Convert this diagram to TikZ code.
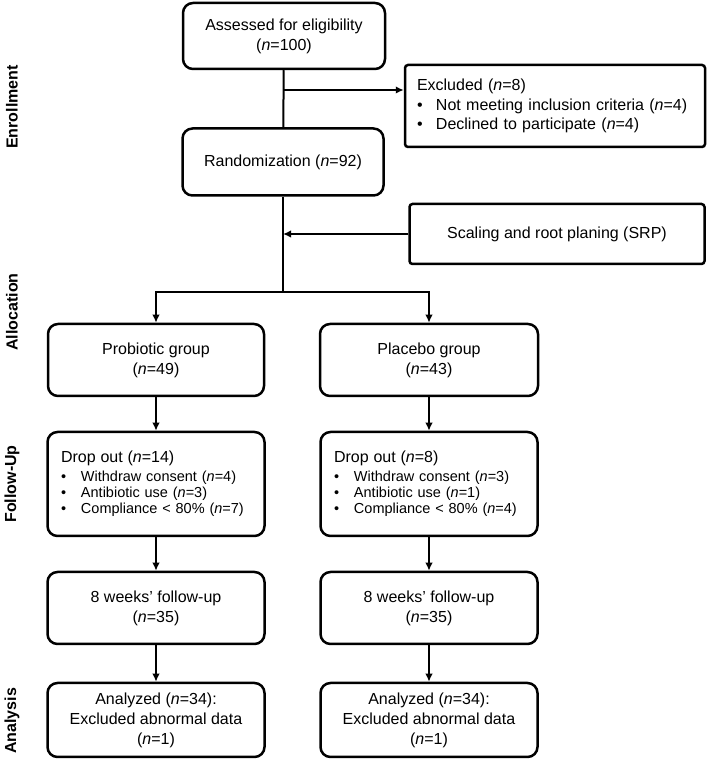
\documentclass[tikz,border=0pt]{standalone}
\usepackage{fontspec}
\setmainfont{Liberation Sans}
\usetikzlibrary{arrows.meta}

\begin{document}
\begin{tikzpicture}[x=1pt,y=1pt,>={Latex[length=8pt,width=7.5pt]},
	box/.style={draw,line width=2.5pt,rounded corners=10pt,align=center,inner sep=0pt,font=\fontsize{16}{20}\selectfont},
	side/.style={draw,line width=2.5pt,rounded corners=3pt,inner sep=0pt,font=\fontsize{16}{19.5}\selectfont},
	drop/.style={box,minimum width=217,minimum height=104,text width=190,align=left,font=\fontsize{14.5}{16}\selectfont},
	lab/.style={rotate=90,font=\bfseries\fontsize{16}{19}\selectfont},
	line/.style={line width=2pt}]
	\useasboundingbox (0,0) rectangle (709,761);

	% section labels
	\foreach \y/\t in {654/Enrollment,449/Allocation,277/Follow-Up,40/Analysis}
		\node[lab] at (12,\y) (lab\y) {\t};

	% enrollment
	\node[box,minimum width=202,minimum height=66] at (284,725) (assess) {Assessed for eligibility\\(\textit{n}=100)};
	\node[side,minimum width=300,minimum height=82,text width=276,align=left] at (555,655) (excl) {Excluded (\textit{n}=8)\\
		\makebox[19pt][l]{\textbullet}Not meeting inclusion criteria (\textit{n}=4)\\
		\makebox[19pt][l]{\textbullet}Declined to participate (\textit{n}=4)};
	\node[box,minimum width=201,minimum height=67] at (283,599) (random) {Randomization (\textit{n}=92)};
	\node[side,minimum width=295,minimum height=60,align=center] at (557,527) (srp) {Scaling and root planing (SRP)};
	\coordinate (e1) at (283,671);
	\coordinate (split) at (283,469);

	% allocation
	\node[box,minimum width=216,minimum height=72] at (156,401) (prob) {Probiotic group\\(\textit{n}=49)};
	\node[box,minimum width=218,minimum height=72] at (429,401) (plac) {Placebo group\\(\textit{n}=43)};

	% follow-up
	\node[drop] at (156,277) (drop1) {{\fontsize{16}{16}\selectfont Drop out (\textit{n}=14)}\\[3pt]
		\makebox[20pt][l]{\textbullet}Withdraw consent (\textit{n}=4)\\
		\makebox[20pt][l]{\textbullet}Antibiotic use (\textit{n}=3)\\
		\makebox[20pt][l]{\textbullet}Compliance < 80\% (\textit{n}=7)};
	\node[drop] at (429,277) (drop2) {{\fontsize{16}{16}\selectfont Drop out (\textit{n}=8)}\\[3pt]
		\makebox[20pt][l]{\textbullet}Withdraw consent (\textit{n}=3)\\
		\makebox[20pt][l]{\textbullet}Antibiotic use (\textit{n}=1)\\
		\makebox[20pt][l]{\textbullet}Compliance < 80\% (\textit{n}=4)};
	\foreach \x/\i in {156/1,429/2}
		\node[box,minimum width=217,minimum height=72] at (\x,153) (weeks\i) {8 weeks' follow-up\\(\textit{n}=35)};

	% analysis
	\foreach \x/\i in {156/1,429/2}
		\node[box,minimum width=217,minimum height=74] at (\x,41) (anal\i) {Analyzed (\textit{n}=34):\\Excluded abnormal data\\(\textit{n}=1)};

	% connectors
	\draw[line] (assess) -- (random);
	\draw[line,->] (e1) -- (e1 -| excl.west);
	\draw[line] (random) -- (split);
	\draw[line,->] (srp.west) -- (srp.west -| random.south);
	\draw[line,->] (split) -| (prob.north);
	\draw[line,->] (split) -| (plac.north);
	\draw[line,->] (prob) -- (drop1);
	\draw[line,->] (plac) -- (drop2);
	\foreach \i in {1,2} {
		\draw[line,->] (drop\i) -- (weeks\i);
		\draw[line,->] (weeks\i) -- (anal\i);
	}
\end{tikzpicture}
\end{document}
